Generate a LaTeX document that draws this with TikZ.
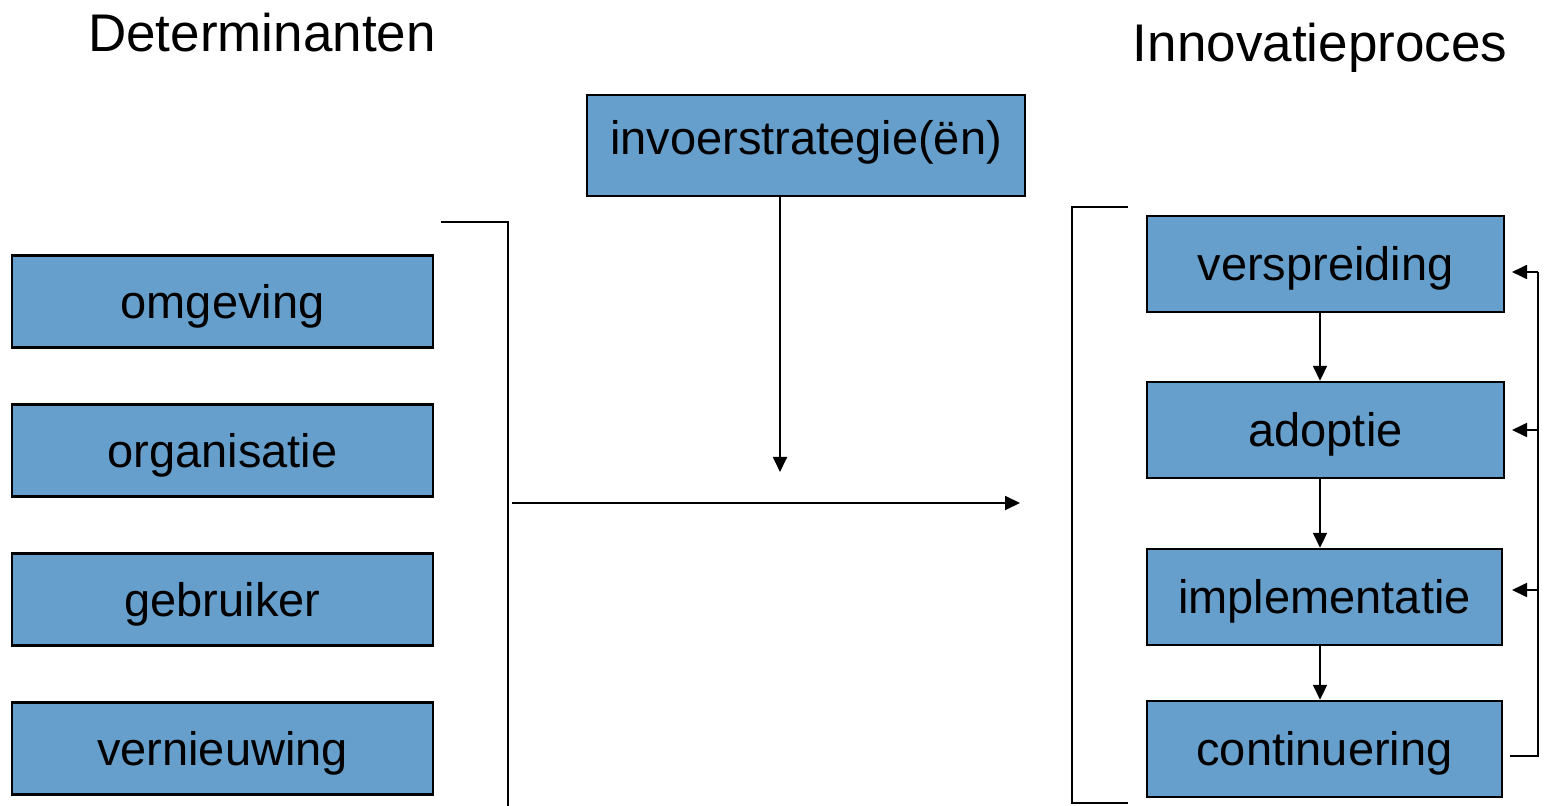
\documentclass[tikz,border=0pt]{standalone}
\usepackage{fontspec}
\setmainfont{Liberation Sans}
\usepackage{xcolor}
\usepackage{tikz}
\usetikzlibrary{positioning,arrows.meta}

\definecolor{boxblue}{HTML}{669FCB}
\tikzset{
    blok/.style={draw, fill=boxblue, line width=1.2pt, font=\fontsize{23.5}{28}\selectfont, inner sep=0pt, text height=16.8pt, text depth=0pt},
    titel/.style={font=\fontsize{26.5}{32}\selectfont, anchor=base},
    pijl/.style={line width=0.9pt, -{Triangle[length=7.5pt,width=7pt]}},
    lijn/.style={line width=0.9pt}
}

\begin{document}
\begin{tikzpicture}[x=0.5pt, y=-0.5pt]
        \useasboundingbox (0,0) rectangle (1546,806);
        % titels
        \node[titel] (det) at (262,52) {Determinanten};
        \node[titel] (inn) at (1320,62) {Innovatieproces};
        % determinanten
        \node[blok, minimum width=210.5pt, minimum height=46pt] (omgeving) at (222.5,301.5) {omgeving};
        \node[blok, minimum width=210.5pt, minimum height=46pt, below = 27.3pt of omgeving] (organisatie) {organisatie};
        \node[blok, minimum width=210.5pt, minimum height=46pt, below = 27.3pt of organisatie] (gebruiker) {gebruiker};
        \node[blok, minimum width=210.5pt, minimum height=46pt, below = 27.3pt of gebruiker] (vernieuwing) {vernieuwing};
        % invoerstrategie
        \node[blok, minimum width=219pt, minimum height=50.5pt, text depth=7.3pt] (invoer) at (806,145.5) {invoerstrategie(ën)};
        % innovatieproces
        \node[blok, minimum width=178.5pt, minimum height=48pt] (verspreiding) at (1325.5,264) {verspreiding};
        \node[blok, minimum width=178.5pt, minimum height=48pt, below = 33.8pt of verspreiding] (adoptie) {adoptie};
        \node[blok, minimum width=177.5pt, minimum height=48pt, below = 34.3pt of adoptie.south west, anchor=north west] (implementatie) {implementatie};
        \node[blok, minimum width=177.5pt, minimum height=48pt, below = 26.8pt of implementatie] (continuering) {continuering};
        % haken
        \coordinate (lb1) at (441,222);
        \coordinate (lb2) at (508,806);
        \coordinate (rb1) at (1128,207);
        \coordinate (rb2) at (1128,803);
        \draw[lijn] (lb1) -| (lb2);
        \draw[lijn] (rb1) -| (1072,803) -- (rb2);
        % pijlen midden
        \coordinate (hstart) at (512,503);
        \coordinate (heind) at (1020,503);
        \coordinate (veind) at (780,472);
        \draw[pijl] (hstart) -- (heind);
        \draw[pijl] (invoer.south -| veind) -- (veind);
        % pijlen proces
        \draw[pijl] (verspreiding.south -| 1320,0) -- (adoptie.north -| 1320,0);
        \draw[pijl] (adoptie.south -| 1320,0) -- (implementatie.north -| 1320,0);
        \draw[pijl] (implementatie.south -| 1320,0) -- (continuering.north -| 1320,0);
        % terugkoppeling
        \coordinate (fb0) at (1510,756);
        \coordinate (fb1) at (1538,272);
        \coordinate (fb2) at (1538,430);
        \coordinate (fb3) at (1538,590);
        \draw[lijn] (fb0) -| (fb1);
        \draw[pijl] (fb1) -- (1512,272);
        \draw[pijl] (fb2) -- (1512,430);
        \draw[pijl] (fb3) -- (1512,590);
    \end{tikzpicture}
\end{document}
